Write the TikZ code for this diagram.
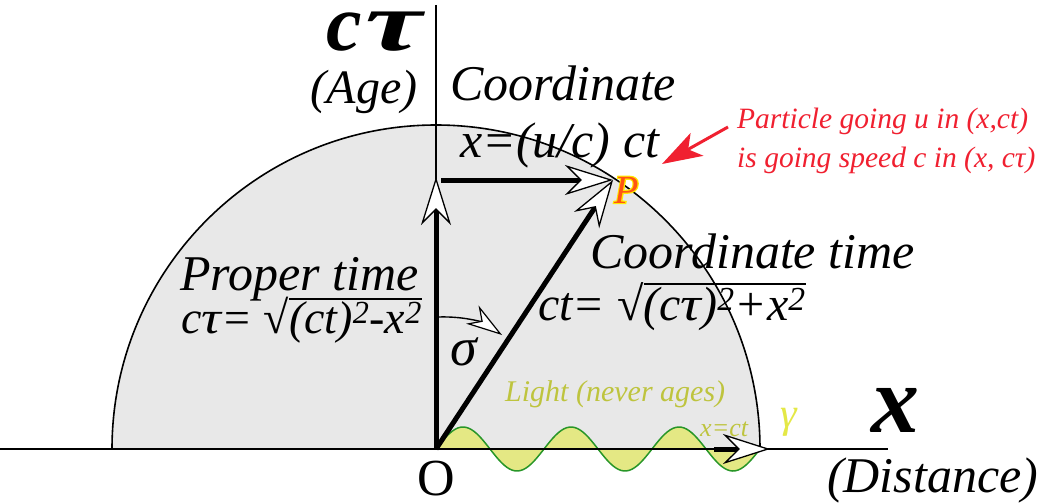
\documentclass[tikz,border=0pt]{standalone}
\usepackage{fontspec}
\usepackage{graphicx}
\setmainfont{Liberation Serif}
\newfontface\Pthick{Liberation Serif Italic}[FakeBold=6]
\usetikzlibrary{arrows.meta}
\definecolor{semigray}{RGB}{232,232,232}
\definecolor{waveyel}{RGB}{228,232,132}
\definecolor{wavegreen}{RGB}{40,150,40}
\definecolor{lighttxt}{RGB}{190,196,62}
\definecolor{gammacol}{RGB}{228,232,70}
\definecolor{notered}{RGB}{240,32,48}
\definecolor{pred}{RGB}{255,84,20}
\definecolor{pyel}{RGB}{255,232,0}
\newcommand\ovl[1]{\leavevmode\vbox{\hrule height 1.8pt\kern 1.5pt\hbox{#1}}}
\newcommand\sq[1]{\textsuperscript{#1}}
\tikzset{
  lbl/.style={inner sep=0pt, font=\itshape\fontsize{48}{58}\selectfont},
  biglbl/.style={inner sep=0pt, font=\bfseries\itshape\fontsize{80}{90}\selectfont},
  redlbl/.style={inner sep=0pt, text=notered, font=\itshape\fontsize{29.5}{36}\selectfont},
  lightlbl/.style={inner sep=0pt, text=lighttxt, font=\itshape\fontsize{30}{36}\selectfont},
  thickarrow/.style={line width=5pt, -{Stealth[length=48pt,width=30pt,inset=15pt,fill=white,line width=1.3pt]}},
  sigmaarrow/.style={line width=1.4pt, -{Stealth[length=36pt,width=22pt,inset=11pt,fill=white,line width=1.2pt]}},
  redarrow/.style={notered, line width=3pt, -{Stealth[length=40pt,width=26pt,inset=10pt]}}
}
\begin{document}
\begin{tikzpicture}[x=1pt,y=-1pt]
\useasboundingbox (0,0) rectangle (1044,503);
% key points
\coordinate (O) at (436,449);
\coordinate (P) at (613,180);
\coordinate (T) at (436,177);
\coordinate (H) at (441,180);
\coordinate (L) at (112,449);
\coordinate (axL) at (0,449);
\coordinate (axR) at (888,449);
\coordinate (axT) at (436,5);
% semicircle
\draw[fill=semigray, line width=1.6pt] (L) arc[start angle=180, end angle=360, radius=324];
% light wave
\fill[waveyel] plot[domain=436:760, samples=120, smooth] (\x,{449-22*sin((\x-436)/108*360)}) -- cycle;
\draw[wavegreen, line width=1.5pt] plot[domain=436:760, samples=120, smooth] (\x,{449-22*sin((\x-436)/108*360)});
% axes
\draw[line width=1.5pt] (axL) -- (axR);
\draw[line width=1.5pt] (axT) -- (O);
% main arrows
\draw[thickarrow] (O) -- (T);
\draw[thickarrow] (H) -- (P);
\draw[thickarrow] (O) -- (P);
% x=ct arrow
\coordinate (g0) at (714,449);
\coordinate (g1) at (770,449);
\draw[line width=5pt, -{Stealth[length=47pt,width=30pt,inset=15pt,fill=white,line width=1.3pt]}] (g0) -- (g1);
% sigma arrow
\coordinate (s0) at (438,317);
\coordinate (s1) at (502,335);
\draw[sigmaarrow] (s0) .. controls (468,316) and (486,324) .. (s1);
% red note arrow
\coordinate (r0) at (728,127);
\coordinate (r1) at (662,164);
\draw[redarrow] (r0) -- (r1);
% labels
\node[biglbl, anchor=base west, text height=40pt, text depth=0pt] (ylab) at (326,51) {c\kern4pt\scalebox{1.6}[1.05]{τ}};
\node[lbl, anchor=base] (age) at (364,103) {(Age)};
\node[lbl, anchor=base west, font=\itshape\fontsize{50}{58}\selectfont] (coord) at (450,100) {Coordinate};
\node[lbl, anchor=base west, font=\itshape\fontsize{50}{58}\selectfont] (xeq) at (460,157) {x=(u/c) ct};
\node[redlbl, anchor=base west] (red1) at (737,128) {Particle going u in (x,ct)};
\node[redlbl, anchor=base west] (red2) at (737,167) {is going speed c in (x, cτ)};
\node[inner sep=0pt, anchor=base west, font=\itshape\fontsize{40}{46}\selectfont] (Plab) at (614,203)
  {\rlap{\Pthick\color{pyel}P}{\color{pred}P}};
\node[lbl, anchor=base west, font=\itshape\fontsize{50}{58}\selectfont] (ptime) at (180,290) {Proper time};
\node[lbl, anchor=base west, font=\itshape\fontsize{46}{54}\selectfont] (pform) at (181,333) {c\scalebox{1.2}[1]{τ}= √\ovl{(ct)\sq{2}-x\sq{2}}};
\node[lbl, anchor=base west, font=\itshape\fontsize{50}{58}\selectfont] (ctime) at (590,268) {Coordinate time};
\node[lbl, anchor=base west] (cform) at (538,320) {ct= √\ovl{(c\scalebox{1.2}[1]{τ})\sq{2}+x\sq{2}}};
\node[inner sep=0pt, font=\itshape\fontsize{54}{60}\selectfont] (sig) at (464,352) {σ};
\node[lightlbl, anchor=base west] (light) at (505,401) {Light (never ages)};
\node[lightlbl, anchor=base west, font=\itshape\fontsize{26}{30}\selectfont] (xct) at (700,436) {x=ct};
\node[inner sep=0pt, text=gammacol, font=\itshape\fontsize{42}{48}\selectfont] (gam) at (789,422) {γ};
\node[inner sep=0pt, anchor=base, text height=36pt, text depth=0pt, font=\fontsize{52}{58}\selectfont] (Olab) at (436,495) {O};
\node[inner sep=0pt, font=\bfseries\itshape\fontsize{96}{100}\selectfont] (xlab) at (895,410) {x};
\node[lbl, anchor=base west, font=\itshape\fontsize{50}{58}\selectfont] (dist) at (827,492) {(Distance)};
\end{tikzpicture}
\end{document}
